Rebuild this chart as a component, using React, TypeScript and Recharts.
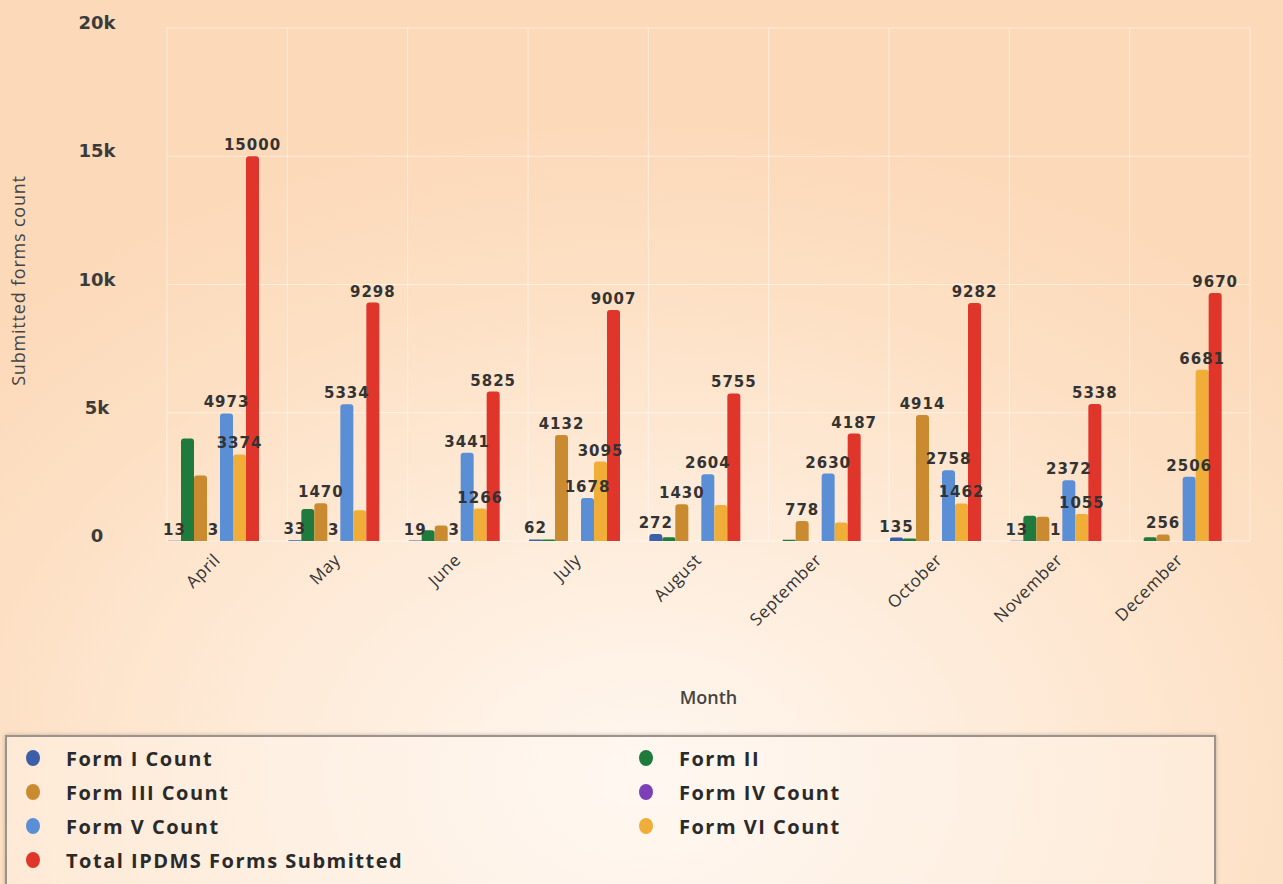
import React from 'react';
import { BarChart, Bar, XAxis, YAxis, CartesianGrid, LabelList, Label } from 'recharts';

const months = ['April', 'May', 'June', 'July', 'August', 'September', 'October', 'November', 'December'];

const formI = [13, 33, 19, 62, 272, 0, 135, 13, 0];
const formII = [4000, 1250, 420, 55, 150, 45, 100, 980, 150];
const formIII = [2550, 1470, 600, 4132, 1430, 778, 4914, 950, 256];
const formIV = [3, 3, 3, 0, 0, 0, 0, 1, 0];
const formV = [4973, 5334, 3441, 1678, 2604, 2630, 2758, 2372, 2506];
const formVI = [3374, 1200, 1266, 3095, 1400, 720, 1462, 1055, 6681];
const totalForms = [15000, 9298, 5825, 9007, 5755, 4187, 9282, 5338, 9670];

// months where the original chart dropped a value label (it overlapped a neighbour)
const formIIIHiddenLabels = ['April', 'June', 'November'];
const formVIHiddenLabels = ['May', 'August', 'September'];

const yTicks = [0, 5000, 10000, 15000, 20000];

const series = [
  { key: 'formI', name: 'Form I Count', color: '#3d5ea8', values: formI, labels: true, hidden: [] as string[] },
  { key: 'formII', name: 'Form II', color: '#1f7a3d', values: formII, labels: false, hidden: [] as string[] },
  { key: 'formIII', name: 'Form III Count', color: '#c98a30', values: formIII, labels: true, hidden: formIIIHiddenLabels },
  { key: 'formIV', name: 'Form IV Count', color: '#7b40b8', values: formIV, labels: true, hidden: [] as string[] },
  { key: 'formV', name: 'Form V Count', color: '#5a8fd6', values: formV, labels: true, hidden: [] as string[] },
  { key: 'formVI', name: 'Form VI Count', color: '#f0ad38', values: formVI, labels: true, hidden: formVIHiddenLabels },
  { key: 'total', name: 'Total IPDMS Forms Submitted', color: '#e0352b', values: totalForms, labels: true, hidden: [] as string[] },
];

const data = months.map((month, i) => {
  const row: any = { month };
  series.forEach((s) => {
    const v = s.values[i];
    row[s.key] = v;
    row[`${s.key}Label`] = v && !s.hidden.includes(month) ? v : '';
  });
  return row;
});

const YTick = ({ x, y, payload }: any) => (
  <text
    x={x - 70}
    y={y - 4}
    textAnchor="middle"
    dominantBaseline="middle"
    fontSize={18}
    fontWeight="bold"
    fill="#3b3b3b"
    fontFamily="DejaVu Sans"
  >
    {payload.value === 0 ? '0' : `${payload.value / 1000}k`}
  </text>
);

const XTick = ({ x, y, payload }: any) => (
  <text
    x={x - 6}
    y={y + 12}
    textAnchor="end"
    fontSize={17}
    fill="#333"
    fontFamily="Open Sans"
    letterSpacing={0.6}
    transform={`rotate(-45, ${x - 6}, ${y + 12})`}
  >
    {payload.value}
  </text>
);

export default function App() {
  return (
    <div
      style={{
        position: 'absolute',
        left: 0,
        top: 0,
        width: 1283,
        height: 884,
        overflow: 'hidden',
        background:
          'radial-gradient(ellipse 70% 75% at 50% 88%, #fff7f0 0%, #feead7 45%, #fde0c4 75%, #fcd9b9 100%)',
      }}
    >
      <BarChart
        width={1283}
        height={730}
        data={data}
        margin={{ top: 28, right: 33, left: 0, bottom: 0 }}
        barGap={0}
      >
        <CartesianGrid
          stroke="#ffffff"
          strokeOpacity={0.5}
          verticalCoordinatesGenerator={({ offset }: any) =>
            months.map((_, i) => offset.left + (i * offset.width) / months.length).concat(offset.left + offset.width)
          }
        />
        <XAxis
          dataKey="month"
          height={189}
          axisLine={false}
          tickLine={false}
          interval={0}
          tick={<XTick />}
        >
          <Label
            value="Month"
            position="insideBottom"
            offset={26}
            style={{ fontSize: 18, fontWeight: 600, fill: '#444', fontFamily: 'Open Sans' }}
          />
        </XAxis>
        <YAxis
          width={167}
          domain={[0, 20000]}
          ticks={yTicks}
          axisLine={false}
          tickLine={false}
          tickSize={0}
          tickMargin={0}
          tick={<YTick />}
        >
          <Label
            content={({ viewBox }: any) => {
              const cx = viewBox.x + 20;
              const cy = viewBox.y + viewBox.height / 2 - 4;
              return (
                <text
                  x={cx}
                  y={cy}
                  textAnchor="middle"
                  dominantBaseline="middle"
                  fontSize={18}
                  fill="#444"
                  fontFamily="Open Sans"
                  letterSpacing={0.8}
                  transform={`rotate(-90, ${cx}, ${cy})`}
                >
                  Submitted forms count
                </text>
              );
            }}
          />
        </YAxis>
        {series.map((s) => (
          <Bar
            key={s.key}
            dataKey={s.key}
            name={s.name}
            fill={s.color}
            barSize={13}
            radius={[3, 3, 0, 0]}
            isAnimationActive={false}
          >
            {s.labels && (
              <LabelList
                dataKey={`${s.key}Label`}
                position="top"
                offset={6}
                style={{ fontSize: 15, fontWeight: 'bold', fill: '#333', fontFamily: 'DejaVu Sans', letterSpacing: 1 }}
              />
            )}
          </Bar>
        ))}
        {/* empty slot that pushes each month's bars to the left of the band */}
        <Bar dataKey="spacer" barSize={28} fill="none" legendType="none" isAnimationActive={false} />
      </BarChart>
      <div
        style={{
          position: 'absolute',
          left: 5,
          top: 735,
          width: 1211,
          height: 160,
          border: '2px solid #9c948c',
          boxShadow: '0 0 4px rgba(0,0,0,0.25)',
          background: 'rgba(255,250,244,0.35)',
          display: 'grid',
          gridTemplateColumns: '613px 1fr',
          gridAutoRows: 34,
          paddingTop: 4,
          paddingLeft: 19,
          boxSizing: 'border-box',
          fontFamily: 'Open Sans',
          fontWeight: 'bold',
          fontSize: 20,
          color: '#2a2a2a',
          letterSpacing: 1.5,
        }}
      >
        {series.map((s) => (
          <div key={s.key} style={{ display: 'flex', alignItems: 'center' }}>
            <span
              style={{
                width: 14,
                height: 16,
                borderRadius: '50%',
                background: s.color,
                marginRight: 26,
                display: 'inline-block',
              }}
            />
            {s.name}
          </div>
        ))}
      </div>
    </div>
  );
}
